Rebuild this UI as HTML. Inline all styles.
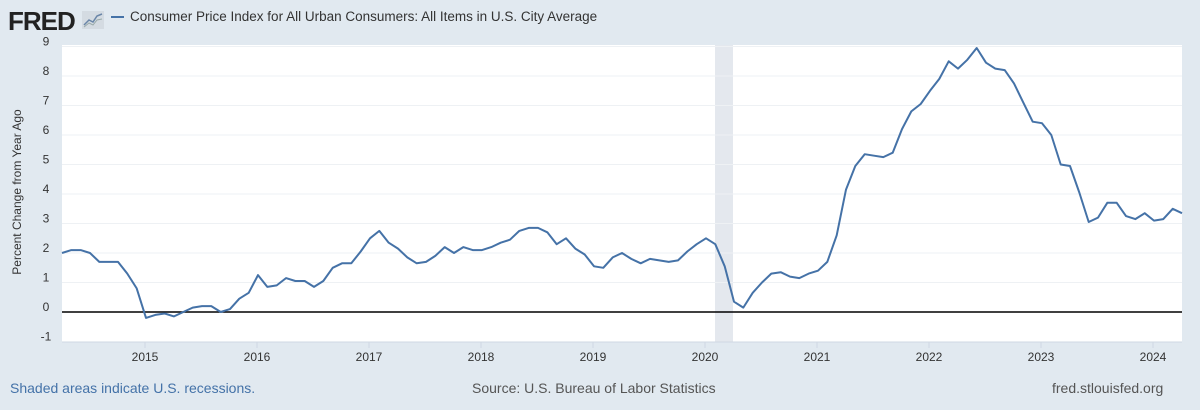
<!DOCTYPE html>
<html><head><meta charset="utf-8"><style>
body{margin:0;width:1200px;height:410px;background:#e1e9f0;font-family:"Liberation Sans",sans-serif;overflow:hidden;position:relative}
.t{position:absolute}
</style></head><body>
<div class="t" style="left:8px;top:6px;font-size:26px;font-weight:900;letter-spacing:-1px;color:#222">FRED</div>
<svg class="t" style="left:82px;top:11px" width="22" height="18"><rect width="22" height="18" fill="#d4dbe2"/><polyline points="2,14 7,9 11,11 15,5 20,3" fill="none" stroke="#6a86a8" stroke-width="1.5"/><polyline points="2,16 7,12 11,14 15,9 20,8" fill="none" stroke="#9aa" stroke-width="1"/></svg>
<div class="t" style="left:111px;top:9px;font-size:13.5px;color:#333"><span style="display:inline-block;width:13px;height:2px;background:#4572a7;vertical-align:middle;margin-right:6px"></span>Consumer Price Index for All Urban Consumers: All Items in U.S. City Average</div>
<div class="t" style="left:10px;top:380px;font-size:14px;color:#4472a8">Shaded areas indicate U.S. recessions.</div>
<div class="t" style="left:472px;top:380px;font-size:14px;color:#555">Source: U.S. Bureau of Labor Statistics</div>
<div class="t" style="left:1052px;top:380px;font-size:14px;color:#555">fred.stlouisfed.org</div>
<svg id="s" class="t" style="left:0;top:0" width="1200" height="410"></svg>
<script>
var d=[2.0,2.1,2.1,2.0,1.7,1.7,1.7,1.3,0.8,
-0.2,-0.1,-0.05,-0.15,0.0,0.15,0.2,0.2,0.0,0.1,0.45,0.65,
1.25,0.85,0.9,1.15,1.05,1.05,0.85,1.05,1.5,1.65,1.65,2.05,
2.5,2.75,2.35,2.15,1.85,1.65,1.7,1.9,2.2,2.0,2.2,2.1,
2.1,2.2,2.35,2.45,2.75,2.85,2.85,2.7,2.3,2.5,2.15,1.95,
1.55,1.5,1.85,2.0,1.8,1.65,1.8,1.75,1.7,1.75,2.05,2.3,
2.5,2.3,1.55,0.35,0.15,0.65,1.0,1.3,1.35,1.2,1.15,1.3,
1.4,1.7,2.6,4.15,4.95,5.35,5.3,5.25,5.4,6.2,6.8,7.05,
7.5,7.9,8.5,8.25,8.55,8.95,8.45,8.25,8.2,7.75,7.1,6.45,
6.4,6.0,5.0,4.95,4.05,3.05,3.2,3.7,3.7,3.25,3.15,3.35,
3.1,3.15,3.5,3.35];
var X0=62,X1=1182,Y0=312,U=29.5;
function y(v){return Y0-v*U}
var h='<rect x="62" y="45" width="1120" height="297" fill="#fff"/>';
h+='<rect x="715" y="45" width="18" height="297" fill="#e4e8ee"/>';
for(var v=-1;v<=9;v++){if(v!=0&&v!=-1)h+='<line x1="62" x2="1182" y1="'+y(v)+'" y2="'+y(v)+'" stroke="#eef1f4"/>';h+='<text x="46" y="'+(y(v)-1)+'" font-size="12" fill="#333" text-anchor="middle">'+v+'</text>'}
h+='<line x1="62" x2="1182" y1="'+Y0+'" y2="'+Y0+'" stroke="#000" stroke-width="1.5"/>';
h+='<line x1="62" x2="1182" y1="342" y2="342" stroke="#cfd8e3"/>';
for(var yr=2015;yr<=2024;yr++){var x=145+(yr-2015)*112;h+='<line x1="'+x+'" x2="'+x+'" y1="342" y2="348" stroke="#cfd8e3"/><text x="'+x+'" y="361" font-size="12" fill="#333" text-anchor="middle">'+yr+'</text>'}
var p=[];for(var i=0;i<d.length;i++)p.push((X0+i*112/12).toFixed(1)+','+y(d[i]).toFixed(1));
h+='<polyline points="'+p.join(' ')+'" fill="none" stroke="#4572a7" stroke-width="2" stroke-linejoin="round"/>';
h+='<text transform="translate(21,192) rotate(-90)" font-size="12" fill="#333" text-anchor="middle">Percent Change from Year Ago</text>';
document.getElementById('s').innerHTML=h;
</script>
</body></html>
